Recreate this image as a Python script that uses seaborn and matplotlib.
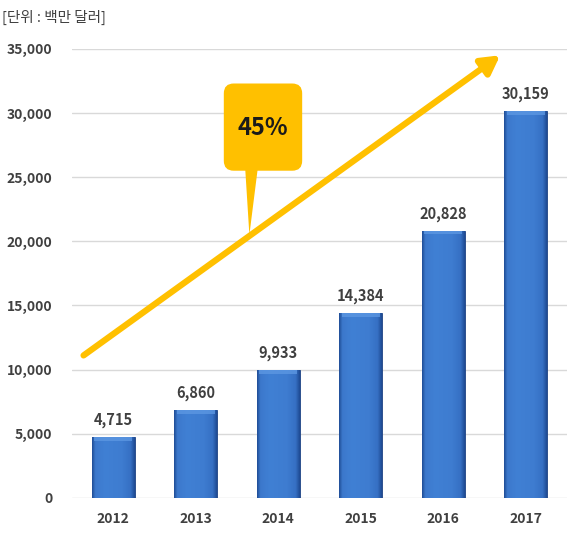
import numpy as np
import pandas as pd
import matplotlib
matplotlib.use("Agg")
import matplotlib.pyplot as plt
import seaborn as sns
from matplotlib.patches import FancyBboxPatch, Polygon
from matplotlib.colors import LinearSegmentedColormap

# Market size by year (unit: million USD)
years = ["2012", "2013", "2014", "2015", "2016", "2017"]
values = [4715, 6860, 9933, 14384, 20828, 30159]
yticks = [0, 5000, 10000, 15000, 20000, 25000, 30000, 35000]
growth_label = "45%"
unit_label = "[단위 : 백만 달러]"

sns.set_theme(style="white")
plt.rcParams["font.family"] = ["Noto Sans CJK KR", "DejaVu Sans"]

df = pd.DataFrame({"year": years, "value": values})

fig = plt.figure(figsize=(5.67, 5.37), dpi=100)
ax = fig.add_axes([0.127, 0.073, 0.873, 0.836])

sns.barplot(data=df, x="year", y="value", color="#3C78CC", width=0.52,
            saturation=1, ax=ax, zorder=3)

# bevel-like horizontal shading on each bar
cmap = LinearSegmentedColormap.from_list(
    "barshade",
    [(0.0, "#1F4C95"), (0.08, "#3C78CC"), (0.3, "#4080D4"),
     (0.7, "#3E7CD0"), (0.9, "#3670C4"), (1.0, "#1E4A92")])
grad = np.linspace(0, 1, 256).reshape(1, -1)
for p in ax.patches:
    x0, y0 = p.get_x(), p.get_y()
    w, h = p.get_width(), p.get_height()
    im = ax.imshow(grad, cmap=cmap, aspect="auto",
                   extent=(x0, x0 + w, y0, y0 + h), zorder=3.5)
    im.set_clip_path(p)
    # lighter top bevel
    ax.fill_between([x0 + 0.03, x0 + w - 0.03], y0 + h - 300, y0 + h,
                    color="#5C97E2", alpha=0.8, zorder=3.6, linewidth=0)
    p.set_edgecolor("#1B3F80")
    p.set_linewidth(0.6)

ax.set_xlim(-0.5, 5.5)
ax.set_ylim(0, 35000)
ax.set_aspect("auto")
ax.set_yticks(yticks)
ax.set_yticklabels([f"{v:,}" for v in yticks])
ax.yaxis.grid(True, color="#D9D9D9", linewidth=1, zorder=0)
ax.set_axisbelow(True)
for s in ax.spines.values():
    s.set_visible(False)
ax.tick_params(axis="both", length=0, labelsize=10, colors="#404040", pad=10)
ax.tick_params(axis="y", pad=14)
for lbl in ax.get_xticklabels() + ax.get_yticklabels():
    lbl.set_fontweight("bold")
ax.set_xlabel("")
ax.set_ylabel("")

# value labels
for i, v in enumerate(values):
    ax.text(i, v + 700, f"{v:,}", ha="center", va="bottom", fontsize=10.5,
            fontweight="bold", color="#404040", zorder=5)

# growth arrow
ax.annotate("", xy=(4.69, 34500), xytext=(-0.36, 11100),
            arrowprops=dict(arrowstyle="-|>,head_length=0.9,head_width=0.5",
                            color="#FFC000", lw=4.5, shrinkA=0, shrinkB=0),
            zorder=6)

# callout box with pointer
yellow = "#FFC000"
aspect = (35000 / 449) * 82.5
box = FancyBboxPatch((1.34, 25500), 0.95, 6800,
                     boxstyle="round,pad=0,rounding_size=0.12",
                     mutation_aspect=aspect,
                     facecolor=yellow, edgecolor="none", zorder=7)
ax.add_patch(box)
ptr = Polygon([(1.6, 25600), (1.75, 25600), (1.65, 20500)], closed=True,
              facecolor=yellow, edgecolor="none", zorder=7)
ax.add_patch(ptr)
ax.text(1.81, 28850, growth_label, ha="center", va="center", fontsize=17,
        fontweight="bold", color="#1A1A1A", zorder=8)

fig.text(0.004, 0.968, unit_label, ha="left", va="center", fontsize=10.5,
         color="#404040")

fig.savefig("out.png", dpi=100)
